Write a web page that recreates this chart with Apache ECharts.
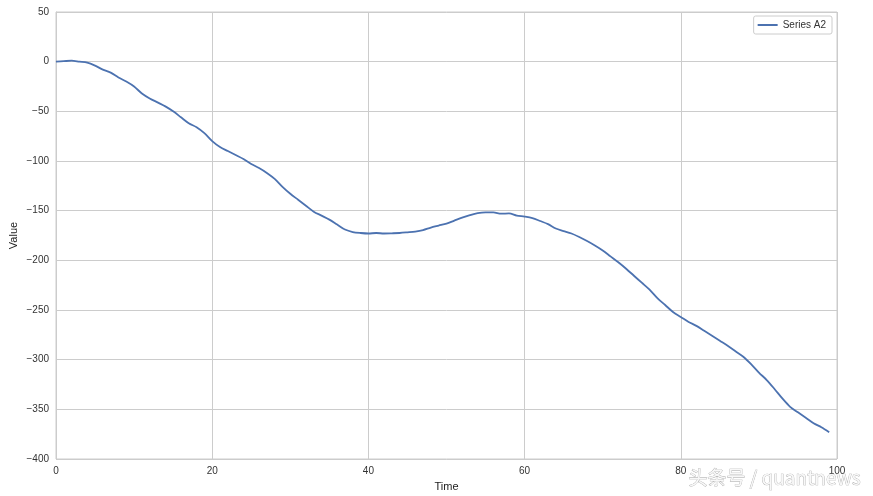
<!DOCTYPE html>
<html>
<head>
<meta charset="utf-8">
<script src="https://cdn.jsdelivr.net/npm/echarts@6/dist/echarts.min.js"></script>
<style>html,body{margin:0;padding:0;background:#fff}#c{width:873px;height:496px}</style>
</head>
<body>
<div id="c"></div>
<script>
const seriesName = 'Series A2';
const xValues = [];
for (let i = 0; i < 100; i++) xValues.push(i);
const seriesA2 = [
  0, 0.5, 1, 0, -1, -4, -8, -11, -16, -20,
  -25, -32, -37, -41, -45, -50, -56, -62, -66, -72,
  -80, -86, -90, -94, -98, -103, -107, -112, -118, -126,
  -133, -139, -145, -151, -155, -159, -164, -169, -171.5, -172.5,
  -173, -172.5, -173, -172.8, -172.5, -171.8, -171, -169.5, -167, -165,
  -163, -160, -157, -154.5, -152.5, -151.7, -151.7, -153, -152.8, -155,
  -156, -157.5, -160.4, -163.5, -168, -170.5, -173, -176.5, -180.5, -185,
  -190, -196, -202, -208.5, -215.5, -222.5, -229.5, -238, -245, -252,
  -257, -262, -266, -271, -276, -281, -286, -291.5, -297, -304.5,
  -313, -320.5, -329.5, -339, -347.5, -353, -358.5, -364, -368, -373
];
const xTicks = {min: 0, max: 100, interval: 20};
const yTicks = {min: -400, max: 50, interval: 50};

const fmt = v => String(v).replace('-', '\u2212');
const chart = echarts.init(document.getElementById('c'));
chart.setOption({
  animation: false,
  backgroundColor: '#ffffff',
  textStyle: {fontFamily: 'Liberation Sans, Arial, sans-serif'},
  grid: {left: 56, right: 36, top: 12, bottom: 37, show: true, borderColor: '#cccccc', borderWidth: 1,
    containLabel: false, outerBoundsMode: 'none'},
  legend: {
    data: [seriesName], right: 41, top: 16, orient: 'vertical',
    borderColor: '#cccccc', borderWidth: 1, borderRadius: 2, padding: [4, 6, 4, 4],
    itemWidth: 20, itemHeight: 10, itemGap: 5, icon: 'path://M0,4 L20,4 L20,6 L0,6 Z',
    textStyle: {fontSize: 10, color: '#333'}
  },
  xAxis: {
    type: 'value', min: xTicks.min, max: xTicks.max, interval: xTicks.interval,
    name: 'Time', nameLocation: 'middle', nameGap: 22, nameMoveOverlap: false,
    nameTextStyle: {fontSize: 11, color: '#222'},
    axisLine: {show: true, lineStyle: {color: '#cccccc'}},
    axisTick: {show: false},
    axisLabel: {fontSize: 10, color: '#333', margin: 7, formatter: fmt},
    splitLine: {show: true, lineStyle: {color: '#cccccc', width: 1}}
  },
  yAxis: {
    type: 'value', min: yTicks.min, max: yTicks.max, interval: yTicks.interval,
    name: 'Value', nameLocation: 'middle', nameGap: 37, nameRotate: 90, nameMoveOverlap: false,
    nameTextStyle: {fontSize: 11, color: '#222'},
    axisLine: {show: true, lineStyle: {color: '#cccccc'}},
    axisTick: {show: false},
    axisLabel: {fontSize: 10, color: '#333', margin: 7, formatter: fmt},
    splitLine: {show: true, lineStyle: {color: '#cccccc', width: 1}}
  },
  series: [{
    name: seriesName, type: 'line', showSymbol: false, smooth: 0.3,
    data: xValues.map((x, i) => [x, seriesA2[i]]),
    lineStyle: {color: '#4c72b0', width: 1.8}, itemStyle: {color: '#4c72b0'}
  }],
  graphic: [{
    type: 'text', right: 12, bottom: 8, z: 100,
    style: {text: '头条号 / quantnews', font: '19px "Noto Sans CJK SC", sans-serif',
      fill: '#f8f8f8', stroke: '#a8a8a8', lineWidth: 0.7}
  }]
});
</script>
</body>
</html>
